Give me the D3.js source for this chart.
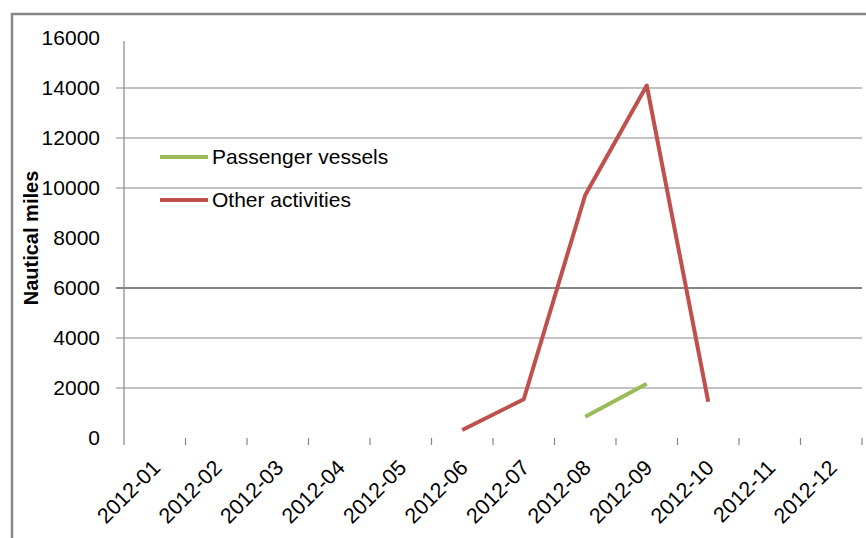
<!DOCTYPE html>
<html><head><meta charset="utf-8">
<script src="https://cdn.jsdelivr.net/npm/d3@7"></script>
<style>
html,body{margin:0;padding:0;background:#fff;}
svg{display:block;}
text{font-family:"Liberation Sans",Arial,sans-serif;fill:#000;}
</style></head>
<body>
<svg id="chart" width="866" height="538"></svg>
<script>
const categories = ["2012-01","2012-02","2012-03","2012-04","2012-05","2012-06","2012-07","2012-08","2012-09","2012-10","2012-11","2012-12"];
const passengerVessels = [null,null,null,null,null,null,null,850,2170,null,null,null];
const otherActivities = [null,null,null,null,null,320,1550,9720,14100,1450,null,null];
const yTicks = [0,2000,4000,6000,8000,10000,12000,14000,16000];
const gridValues = [2000,4000,6000,10000,12000,14000];
const seriesNames = ["Passenger vessels","Other activities"];
const seriesColors = ["#9BBB59","#C0504D"];

const svg = d3.select("#chart");
const pLeft = 124, pRight = 862, pTop = 38, pBottom = 438;

const x = d3.scaleBand().domain(categories).range([pLeft, pRight]).paddingInner(0).paddingOuter(0);
const y = d3.scaleLinear().domain([0, 16000]).range([pBottom, pTop]);

// outer frame
svg.append("path").attr("d", `M12,538 L12,14 L866,14`).attr("fill","none")
  .attr("stroke","#878787").attr("stroke-width",2.5);

// gridlines
svg.append("g").selectAll("line").data(gridValues).join("line")
  .attr("x1", pLeft - 8).attr("x2", pRight)
  .attr("y1", d => y(d)).attr("y2", d => y(d))
  .attr("stroke","#868686").attr("stroke-width", d => d === 6000 ? 2 : 1.2);

// y axis
const yAxis = d3.axisLeft(y).tickValues(yTicks).tickSize(0).tickPadding(24).tickFormat(d3.format("d"));
const yg = svg.append("g").attr("transform", `translate(${pLeft},0)`).call(yAxis);
yg.select(".domain").remove();
yg.selectAll("text").attr("font-size", 21).attr("font-family","Liberation Sans, Arial, sans-serif").attr("fill","#000");
svg.append("line").attr("x1", pLeft).attr("x2", pLeft).attr("y1", y(16000) + 3).attr("y2", pBottom + 7)
  .attr("stroke","#868686").attr("stroke-width",1.2);

// x ticks at category boundaries
const boundaries = categories.map(c => x(c)).concat([x(categories[categories.length-1]) + x.bandwidth()]);
svg.append("g").selectAll("line").data(boundaries.slice(1)).join("line")
  .attr("x1", d => d).attr("x2", d => d).attr("y1", pBottom).attr("y2", pBottom + 7)
  .attr("stroke","#868686").attr("stroke-width",1.2);

// x labels
svg.append("g").selectAll("text").data(categories).join("text")
  .attr("transform", d => `translate(${x(d) + x.bandwidth()/2 + 7},${pBottom + 31}) rotate(-45)`)
  .attr("text-anchor","end").attr("font-size", 21.5).text(d => d);

// y title
svg.append("text").attr("transform", `translate(38,238) rotate(-90)`)
  .attr("text-anchor","middle").attr("font-size", 20).attr("font-weight","bold").text("Nautical miles");

// lines
const line = d3.line().defined(d => d.v !== null).x(d => x(d.c) + x.bandwidth()/2).y(d => y(d.v));
[passengerVessels, otherActivities].forEach((arr, i) => {
  const data = categories.map((c, j) => ({c, v: arr[j]}));
  svg.append("path").datum(data).attr("d", line).attr("fill","none")
    .attr("stroke", seriesColors[i]).attr("stroke-width", 4).attr("stroke-linejoin","round").attr("stroke-linecap","butt");
});

// legend
const lg = svg.append("g");
seriesNames.forEach((n, i) => {
  const ly = 157 + i * 43;
  lg.append("line").attr("x1",160).attr("x2",208).attr("y1",ly).attr("y2",ly)
    .attr("stroke", seriesColors[i]).attr("stroke-width",4);
  lg.append("text").attr("x",212).attr("y",ly).attr("dy","0.35em").attr("font-size",21).text(n);
});
</script>
</body></html>
